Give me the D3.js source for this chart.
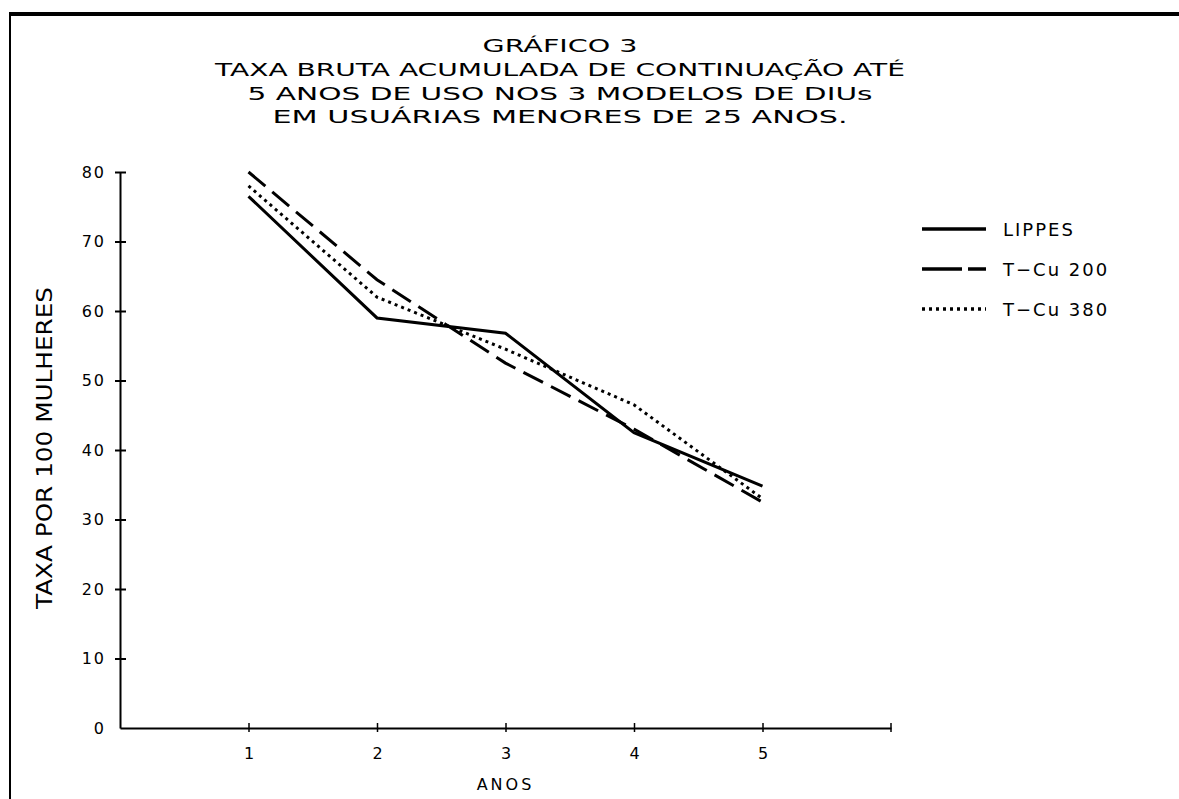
<!DOCTYPE html>
<html>
<head>
<meta charset="utf-8">
<script src="https://cdn.jsdelivr.net/npm/d3@7"></script>
<style>
  body { margin: 0; background: #fff; }
  svg text { font-family: "DejaVu Sans", sans-serif; fill: #000; }
</style>
</head>
<body>
<div id="graph"></div>
<script>
// anos
const years = [1, 2, 3, 4, 5];
// taxa por 100 mulheres
const lippes = [76.5, 59, 56.8, 42.5, 34.8];
const tcu200 = [80, 64.5, 52.5, 43, 32.5];
const tcu380 = [78, 62, 54.5, 46.5, 33];
const seriesNames = ['LIPPES', 'T\u2212Cu 200', 'T\u2212Cu 380'];
const yTicks = [0, 10, 20, 30, 40, 50, 60, 70, 80];
const titleLines = [
  'GRÁFICO 3',
  'TAXA BRUTA ACUMULADA DE CONTINUAÇÃO ATÉ',
  '5 ANOS DE USO NOS 3 MODELOS DE DIUs',
  'EM USUÁRIAS MENORES DE 25 ANOS.'
];

const width = 1179, height = 799;

const svg = d3.select('#graph')
  .append('svg')
  .attr('width', width)
  .attr('height', height);

// frame of the scanned page
svg.append('line')
  .attr('x1', 10).attr('y1', 14).attr('x2', width).attr('y2', 14)
  .attr('stroke', '#000').attr('stroke-width', 4);
svg.append('line')
  .attr('x1', 10).attr('y1', 12).attr('x2', 10).attr('y2', height)
  .attr('stroke', '#000').attr('stroke-width', 2);

const xScale = d3.scaleLinear().domain([0, 6]).range([120, 891]);
const yScale = d3.scaleLinear().domain([0, 80]).range([728, 172]);

// title
const titleY = [52, 76, 100, 123];
const titleW = [155, 690, 625, 575];
titleLines.forEach((t, i) => {
  svg.append('text')
    .attr('x', 560)
    .attr('y', titleY[i])
    .attr('text-anchor', 'middle')
    .attr('font-size', 18)
    .attr('textLength', titleW[i])
    .attr('lengthAdjust', 'spacingAndGlyphs')
    .text(t);
});

// y axis
const yAxis = d3.axisLeft(yScale)
  .tickValues(yTicks)
  .tickSize(0)
  .tickPadding(14)
  .tickFormat(d3.format('d'));
const gy = svg.append('g')
  .attr('transform', `translate(${xScale(0)},0)`)
  .call(yAxis);
gy.select('.domain').attr('stroke', '#000').attr('stroke-width', 2);
gy.selectAll('.tick text')
  .attr('font-size', 16)
  .attr('font-family', '"DejaVu Sans", sans-serif')
  .attr('letter-spacing', 2);
gy.selectAll('.tick').filter(d => d > 0).append('line')
  .attr('x1', -5).attr('x2', 6)
  .attr('stroke', '#000').attr('stroke-width', 2);

// x axis
const xAxis = d3.axisBottom(xScale)
  .tickValues(years)
  .tickSize(0)
  .tickPadding(20)
  .tickFormat(d3.format('d'));
const gx = svg.append('g')
  .attr('transform', `translate(0,${yScale(0)})`)
  .call(xAxis);
gx.select('.domain').attr('stroke', '#000').attr('stroke-width', 2);
gx.selectAll('.tick text')
  .attr('font-size', 16)
  .attr('font-family', '"DejaVu Sans", sans-serif');
gx.selectAll('.tick').append('line')
  .attr('y1', -5).attr('y2', 4)
  .attr('stroke', '#000').attr('stroke-width', 1.5);
gx.append('line')
  .attr('x1', xScale(6)).attr('x2', xScale(6))
  .attr('y1', -5).attr('y2', 4)
  .attr('stroke', '#000').attr('stroke-width', 1.5);

svg.append('text')
  .attr('x', xScale(3))
  .attr('y', 790)
  .attr('text-anchor', 'middle')
  .attr('font-size', 16)
  .attr('letter-spacing', 3)
  .text('ANOS');

svg.append('text')
  .attr('transform', `translate(52,${yScale(40) - 2}) rotate(-90)`)
  .attr('text-anchor', 'middle')
  .attr('font-family', '"Liberation Sans Narrow", "Liberation Sans", sans-serif')
  .attr('font-size', 22)
  .attr('textLength', 322)
  .attr('lengthAdjust', 'spacingAndGlyphs')
  .text('TAXA POR 100 MULHERES');

// lines
const styles = [
  { dash: null, w: 3 },
  { dash: '22,9', w: 3 },
  { dash: '3,4', w: 3 }
];
const allSeries = [lippes, tcu200, tcu380];

const line = d3.line()
  .x((d, i) => xScale(years[i]))
  .y(d => yScale(d));

allSeries.forEach((s, k) => {
  svg.append('path')
    .attr('fill', 'none')
    .attr('stroke', '#000')
    .attr('stroke-width', styles[k].w)
    .attr('stroke-dasharray', styles[k].dash)
    .attr('d', line(s));
});

// legend
const legY = [229, 269, 309];
seriesNames.forEach((n, k) => {
  svg.append('line')
    .attr('x1', 922).attr('x2', 986)
    .attr('y1', legY[k]).attr('y2', legY[k])
    .attr('stroke', '#000')
    .attr('stroke-width', 3.5)
    .attr('stroke-dasharray', k === 1 ? '40,6' : styles[k].dash);
  svg.append('text')
    .attr('x', 1003)
    .attr('y', legY[k] + 7)
    .attr('font-size', 18)
    .attr('letter-spacing', 2)
    .text(n);
});
</script>
</body>
</html>
